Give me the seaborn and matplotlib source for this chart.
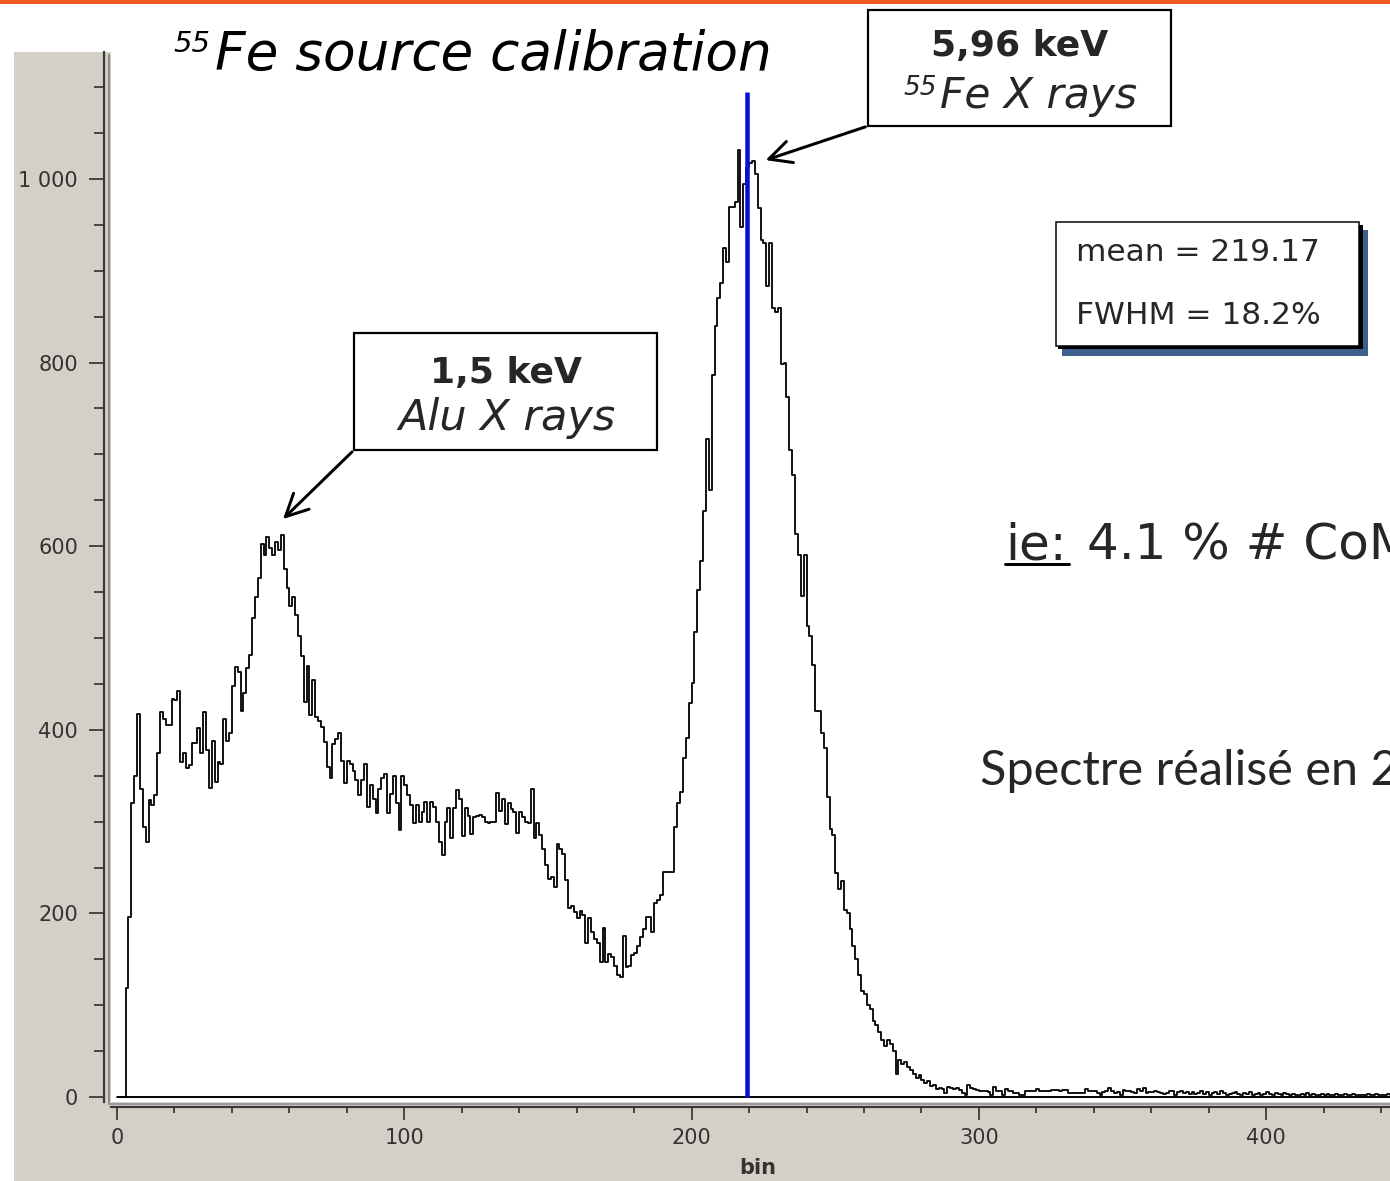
import numpy as np
import pandas as pd
import matplotlib
matplotlib.use("Agg")
import matplotlib.pyplot as plt
from matplotlib.patches import Rectangle, FancyArrowPatch
from matplotlib.lines import Line2D
from matplotlib.ticker import MultipleLocator, FuncFormatter
import seaborn as sns

# ---------------------------------------------------------------- data
# counts per ADC bin (bin 0 .. 443)
counts_low = [
    0, 0, 0, 119, 196, 320, 350, 417, 335, 294,
    278, 323, 318, 329, 375, 419, 412, 405, 405, 434,
    432, 442, 365, 375, 358, 362, 386, 386, 402, 375,
    419, 378, 337, 388, 343, 365, 363, 412, 388, 397,
    448, 468, 463, 421, 440, 467, 482, 522, 545, 565,
    602, 590, 610, 598, 590, 605, 596, 612, 575, 555,
    535, 545, 525, 502, 480, 430, 470, 416, 454, 414,
    410, 403, 387, 360, 347, 384, 390, 397, 366, 342,
]
counts_plateau = [
    366, 363, 355, 345, 329, 345, 363, 316, 340, 325,
    309, 335, 348, 352, 309, 330, 350, 320, 291, 350,
    340, 329, 318, 298, 318, 300, 310, 321, 300, 321,
    316, 300, 278, 264, 300, 315, 282, 315, 334, 325,
    284, 315, 306, 287, 305, 306, 307, 305, 300, 299,
    300, 300, 331, 312, 325, 297, 320, 314, 310, 288,
    310, 305, 300, 298, 335, 282, 298, 285, 270, 253,
    237, 240, 229, 276, 270, 265, 236, 206, 208, 202,
    195, 203, 198, 168, 195, 180, 172, 168, 147, 184,
    147, 156, 152, 143, 133, 131, 175, 142, 143, 155,
    157, 165, 174, 183,
]
counts_peak = [
    196, 196, 180, 211, 215, 220, 245, 245, 245, 245,
    294, 320, 332, 369, 391, 429, 451, 507, 552, 584,
    638, 717, 661, 786, 840, 870, 887, 925, 910, 969,
    970, 975, 1032, 948, 995, 1012, 1017, 1020, 1005, 968,
    934, 930, 883, 930, 859, 855, 859, 798, 800, 763,
    705, 678, 613, 590, 546, 590, 513, 502, 471, 421,
    421, 396, 380, 327, 292, 285, 244, 227, 235, 204,
    200, 183, 165, 150, 133, 115, 112, 100, 96, 83,
    78, 71, 62, 56, 62, 58, 50, 25, 40, 36,
    38, 33, 29, 25, 21, 24, 19, 15, 17, 12,
]
counts_tail = [
    13, 9, 10, 9, 4, 11, 10, 9, 10, 8,
    4, 2, 13, 10, 9, 8, 7, 6, 6, 5,
    2, 11, 6, 6, 2, 9, 6, 6, 4, 4,
    2, 2, 6, 6, 6, 6, 9, 6, 6, 6,
    6, 8, 8, 8, 7, 8, 8, 4, 4, 4,
    4, 4, 4, 9, 6, 6, 7, 4, 2, 5,
    6, 10, 6, 4, 5, 2, 8, 7, 7, 5,
    4, 9, 6, 10, 4, 5, 5, 7, 5, 4,
    3, 4, 6, 6, 2, 5, 7, 4, 5, 3,
    5, 3, 4, 6, 3, 5, 2, 4, 5, 3,
    6, 4, 2, 3, 4, 5, 3, 2, 4, 3,
    5, 2, 3, 4, 2, 3, 5, 3, 2, 4,
    3, 2, 4, 3, 2, 3, 2, 2, 3, 2,
    4, 2, 3, 2, 2, 3, 2, 3, 2, 2,
    3, 2, 2, 3, 2, 2, 3, 2, 2, 2,
    2, 3, 2, 2, 3, 2, 2, 2, 3, 2,
]
counts = counts_low + counts_plateau + counts_peak + counts_tail

mean_bin = 219.17
fwhm_pct = 18.2
peak_top = 1095

title_sup = "55"
title_main = "Fe source calibration"
fe_energy = "5,96 keV"
fe_label = "Fe X rays"
al_energy = "1,5 keV"
al_label = "Alu X rays"
side_line1_ul = "ie:"
side_line1 = "4.1 % # CoM"
side_line2 = "Spectre réalisé en 2"
x_label = "bin"

# ---------------------------------------------------------------- figure
W, H = 1390, 1181
DPI = 100
sns.set_theme(style="white")
plt.rcParams["font.family"] = ["DejaVu Sans"]

fig = plt.figure(figsize=(W / DPI, H / DPI), dpi=DPI, facecolor="white")


def fx(px):
    return px / W


def fy(py):
    return 1 - py / H


def pt(px):
    return px * 72 / DPI


# grey panel behind the axes and the thin orange rule on top
fig.add_artist(Rectangle((fx(14), 0), fx(W - 14), 1 - 52 / H, transform=fig.transFigure,
                         facecolor="#d4d0c8", edgecolor="none", zorder=-5))
fig.add_artist(Rectangle((0, fy(4)), 1, 4 / H, transform=fig.transFigure,
                         facecolor="#ee5a1e", edgecolor="none", zorder=-4))

ax_l, ax_r, ax_t, ax_b = 111, 1390, 52, 1102
ax = fig.add_axes([fx(ax_l), fy(ax_b), fx(ax_r - ax_l), (ax_b - ax_t) / H])
ax.set_facecolor("white")

x0_px, px_per_bin = 117, 2.873
y0_px, px_per_count = 1097, 0.918
ax.set_xlim((ax_l - x0_px) / px_per_bin, (ax_r - x0_px) / px_per_bin)
ax.set_ylim((y0_px - ax_b) / px_per_count, (y0_px - ax_t) / px_per_count)

n_bins = len(counts)
spectrum = pd.DataFrame({"bin": np.arange(n_bins) + 0.5, "count": np.asarray(counts, float)})
sns.histplot(data=spectrum, x="bin", weights="count", binwidth=1, binrange=(0, n_bins),
             element="step", fill=False, color="black", linewidth=1.3, ax=ax, zorder=2)
ax.hlines(0, 0, n_bins, color="black", linewidth=1.4, zorder=2)
ax.vlines(mean_bin, 0, peak_top, color="#0b0bd8", linewidth=pt(4.5), zorder=3)

# axes styling: detached left and bottom axes
for s in ("top", "right"):
    ax.spines[s].set_visible(False)
ax.spines["left"].set_position(("outward", pt(7)))
ax.spines["bottom"].set_position(("outward", pt(5)))
for s in ("left", "bottom"):
    ax.spines[s].set_color("#3a3a3a")
    ax.spines[s].set_linewidth(pt(2.2))

ax.xaxis.set_major_locator(MultipleLocator(100))
ax.xaxis.set_minor_locator(MultipleLocator(20))
ax.yaxis.set_major_locator(MultipleLocator(200))
ax.yaxis.set_minor_locator(MultipleLocator(50))
ax.yaxis.set_major_formatter(FuncFormatter(lambda v, p: f"{int(round(v)):,}".replace(",", " ")))

ax.tick_params(axis="y", which="major", direction="out", length=pt(15), width=pt(1.8),
               color="#3a3a3a", labelsize=15, labelcolor="#333333", pad=pt(11), left=True)
ax.tick_params(axis="y", which="minor", direction="out", length=pt(10), width=pt(1.8),
               color="#3a3a3a", left=True)
ax.tick_params(axis="x", which="major", direction="out", length=pt(13), width=pt(1.8),
               color="#3a3a3a", labelsize=15, labelcolor="#333333", pad=pt(8), bottom=True)
ax.tick_params(axis="x", which="minor", direction="out", length=pt(6), width=pt(1.8),
               color="#3a3a3a", bottom=True)
ax.set_xlabel("")
ax.set_ylabel("")
ax.grid(False)

# second, lighter rails next to the axis lines
fig.add_artist(Line2D([fx(109), fx(109)], [fy(55), fy(1104)], transform=fig.transFigure,
                      color="#8c8c8c", linewidth=pt(2)))
fig.add_artist(Line2D([fx(109), 1], [fy(1103.5), fy(1103.5)], transform=fig.transFigure,
                      color="#9a9a9a", linewidth=pt(2)))

fig.text(fx(758), fy(1168), x_label, ha="center", va="center", fontsize=15,
         fontweight="bold", color="#333333")

# ---------------------------------------------------------------- annotations
fig.text(fx(173), fy(52), title_sup, ha="left", va="baseline", fontsize=21,
         style="italic", color="black")
fig.text(fx(215), fy(70), title_main, ha="left", va="baseline", fontsize=38.3,
         style="italic", color="black")


def label_box(x0, y0, x1, y1):
    fig.add_artist(Rectangle((fx(x0), fy(y1)), fx(x1 - x0), (y1 - y0) / H,
                             transform=fig.transFigure, facecolor="white",
                             edgecolor="black", linewidth=pt(2.2), zorder=5))


label_box(868, 10, 1171, 126)
fig.text(fx(1020), fy(56), fe_energy, ha="center", va="baseline", fontsize=26,
         fontweight="bold", zorder=6)
fig.text(fx(903), fy(95), title_sup, ha="left", va="baseline", fontsize=19,
         style="italic", zorder=6)
fig.text(fx(940), fy(108), fe_label, ha="left", va="baseline", fontsize=30.5,
         style="italic", zorder=6)

label_box(354, 333, 657, 450)
fig.text(fx(506), fy(383), al_energy, ha="center", va="baseline", fontsize=26,
         fontweight="bold", zorder=6)
fig.text(fx(507), fy(430), al_label, ha="center", va="baseline", fontsize=31,
         style="italic", zorder=6)

for (xa, ya), (xb, yb) in [((868, 126), (763, 161)), ((354, 450), (281, 521))]:
    fig.add_artist(FancyArrowPatch((fx(xa), fy(ya)), (fx(xb), fy(yb)),
                                   transform=fig.transFigure, arrowstyle="->",
                                   mutation_scale=40, linewidth=pt(3), color="black",
                                   zorder=6))

# statistics box with layered shadow
fig.add_artist(Rectangle((fx(1062), fy(356)), fx(1368 - 1062), (356 - 230) / H,
                         transform=fig.transFigure, facecolor="#3d5f8c",
                         edgecolor="none", zorder=5))
fig.add_artist(Rectangle((fx(1058), fy(349.5)), fx(1362.5 - 1058), (349.5 - 225) / H,
                         transform=fig.transFigure, facecolor="black",
                         edgecolor="none", zorder=5))
fig.add_artist(Rectangle((fx(1056), fy(346)), fx(1359 - 1056), (346 - 222) / H,
                         transform=fig.transFigure, facecolor="white",
                         edgecolor="black", linewidth=pt(1.5), zorder=5))
fig.text(fx(1076), fy(253), f"mean = {mean_bin:.2f}", ha="left", va="center",
         fontsize=22.5, zorder=6)
fig.text(fx(1076), fy(316), f"FWHM = {fwhm_pct:.1f}%", ha="left", va="center",
         fontsize=22.5, zorder=6)

# side notes (they run past the right edge of the panel)
fig.text(fx(1005), fy(560), side_line1_ul, ha="left", va="baseline", fontsize=36)
fig.text(fx(1087), fy(560), side_line1, ha="left", va="baseline", fontsize=36)
fig.add_artist(Line2D([fx(1005), fx(1069)], [fy(564), fy(564)], transform=fig.transFigure,
                      color="black", linewidth=pt(3)))
fig.text(fx(980), fy(785), side_line2, ha="left", va="baseline",
         fontsize=35, family=["Lato", "DejaVu Sans"])

fig.savefig("out.png", dpi=DPI, facecolor="white")
